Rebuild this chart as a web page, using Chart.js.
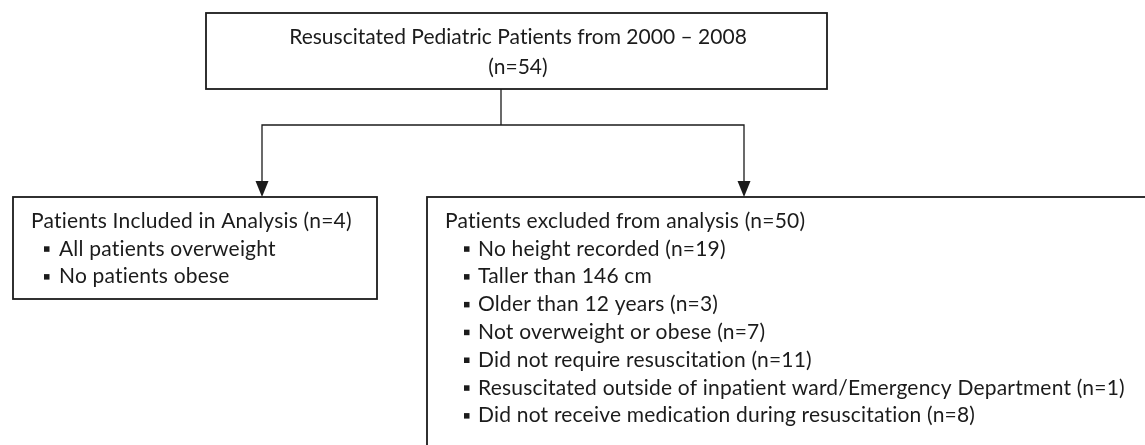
<!DOCTYPE html>
<html>
<head>
<meta charset="utf-8">
<script src="https://cdn.jsdelivr.net/npm/chart.js@4"></script>
<style>
  html, body { margin: 0; padding: 0; background: #fff; }
  canvas { display: block; }
</style>
</head>
<body>
<canvas id="flow" width="1145" height="445"></canvas>
<script>
// ============= Texts of the flowchart =============
const topLines = ["Resuscitated Pediatric Patients from 2000 \u2013 2008", "(n=54)"];
const includedHeader = "Patients Included in Analysis (n=4)";
const includedItems = ["All patients overweight", "No patients obese"];
const excludedHeader = "Patients excluded from analysis (n=50)";
const excludedItems = [
  "No height recorded (n=19)",
  "Taller than 146 cm",
  "Older than 12 years (n=3)",
  "Not overweight or obese (n=7)",
  "Did not require resuscitation (n=11)",
  "Resuscitated outside of inpatient ward/Emergency Department (n=1)",
  "Did not receive medication during resuscitation (n=8)",
];

// ============= Layout (in scale units) =============
const FONT = "21px Lato, 'Open Sans', sans-serif";
const INK = "#1b1b1b";
const boxes = {
  top: { x0: 206, y0: 13, x1: 827, y1: 89 },
  left: { x0: 13, y0: 197, x1: 377, y1: 299 },
  right: { x0: 427, y0: 197, x1: 1160, y1: 460 },
};
const lineGap = 27.8;

const flowPlugin = {
  id: "flow",
  afterDraw(chart) {
    const { ctx } = chart;
    const sx = chart.scales.x;
    const sy = chart.scales.y;
    const X = (v) => sx.getPixelForValue(v);
    const Y = (v) => sy.getPixelForValue(v);

    ctx.save();
    ctx.strokeStyle = INK;
    ctx.fillStyle = INK;

    // boxes
    ctx.lineWidth = 1.8;
    Object.values(boxes).forEach((b) => {
      ctx.strokeRect(X(b.x0), Y(b.y0), X(b.x1) - X(b.x0), Y(b.y1) - Y(b.y0));
    });

    // connectors
    ctx.lineWidth = 1.3;
    ctx.beginPath();
    ctx.moveTo(X(501), Y(89));
    ctx.lineTo(X(501), Y(125));
    ctx.moveTo(X(262), Y(182));
    ctx.lineTo(X(262), Y(125));
    ctx.lineTo(X(744), Y(125));
    ctx.lineTo(X(744), Y(182));
    ctx.stroke();

    // arrow heads
    [262, 744].forEach((ax) => {
      ctx.beginPath();
      ctx.moveTo(X(ax - 6.5), Y(181));
      ctx.lineTo(X(ax + 6.5), Y(181));
      ctx.lineTo(X(ax), Y(197));
      ctx.closePath();
      ctx.fill();
    });

    // texts (tiny letter spacing also turns off the "ti" ligature)
    ctx.font = FONT;
    ctx.textBaseline = "middle";
    ctx.textAlign = "center";
    ctx.letterSpacing = "0.01px";
    topLines.forEach((t, i) => {
      ctx.fillText(t, X(518), Y(37 + i * 30));
    });

    ctx.textAlign = "left";
    ctx.letterSpacing = "0.2px";
    const list = (header, items, hx, bx, tx, y) => {
      ctx.fillText(header, X(hx), Y(y));
      items.forEach((t, i) => {
        const yy = Y(y + (i + 1) * lineGap);
        ctx.fillRect(X(bx), yy - 2.5, 5.5, 5.5);
        ctx.fillText(t, X(tx), yy);
      });
    };
    list(includedHeader, includedItems, 31, 44, 59, 221);
    list(excludedHeader, excludedItems, 445, 464, 478, 221);

    ctx.restore();
  },
};

new Chart(document.getElementById("flow"), {
  type: "scatter",
  data: { datasets: [{ data: [], pointRadius: 0 }] },
  options: {
    responsive: false,
    animation: false,
    events: [],
    layout: { padding: 0 },
    plugins: { legend: { display: false }, tooltip: { enabled: false } },
    scales: {
      x: { type: "linear", min: 0, max: 1145, display: false },
      y: { type: "linear", min: 0, max: 445, reverse: true, display: false },
    },
  },
  plugins: [flowPlugin],
});
</script>
</body>
</html>
